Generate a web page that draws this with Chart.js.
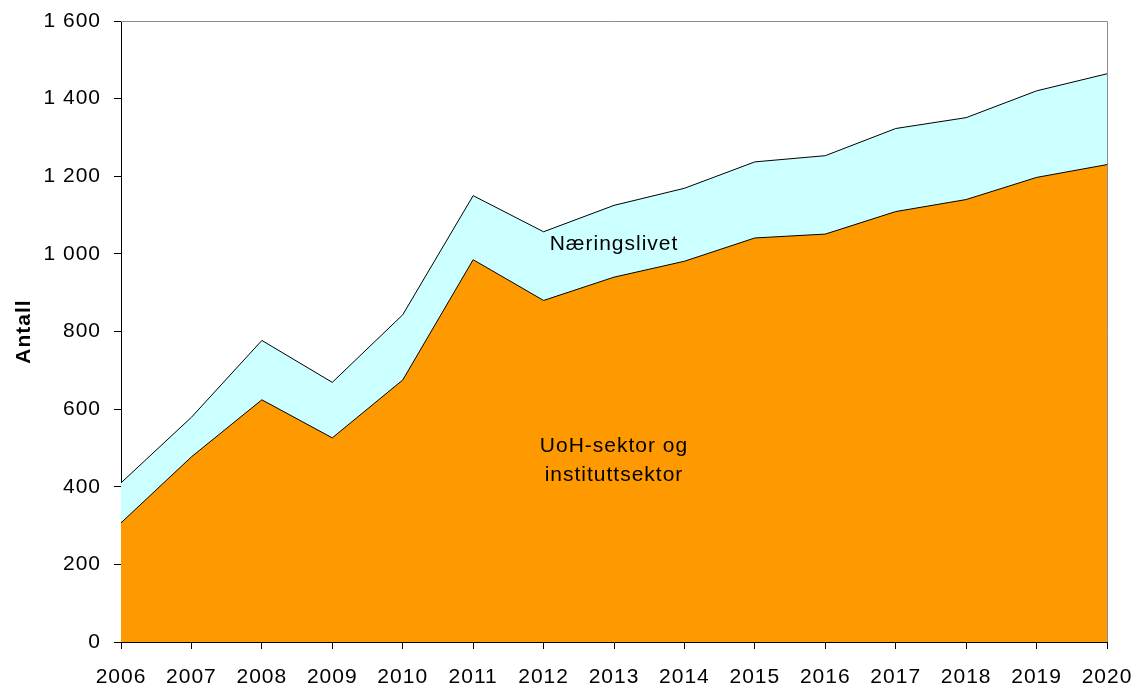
<!DOCTYPE html>
<html>
<head>
<meta charset="utf-8">
<script src="https://cdn.jsdelivr.net/npm/chart.js@4"></script>
<style>
  html, body { margin: 0; padding: 0; background: #fff; }
  #chart { display: block; }
</style>
</head>
<body>
<canvas id="chart" width="1137" height="687"></canvas>
<script>
// Years on the x axis
const years = ["2006", "2007", "2008", "2009", "2010", "2011", "2012", "2013",
               "2014", "2015", "2016", "2017", "2018", "2019", "2020"];

// UoH-sektor og instituttsektor (bottom layer)
const uohValues = [307, 477, 624, 526, 675, 985, 880, 940, 981, 1041, 1051, 1109, 1140, 1197, 1230];

// Næringslivet (stacked on top)
const naeringValues = [103, 102, 153, 143, 168, 165, 177, 185, 188, 196, 202, 214, 211, 223, 234];

// Y axis ticks
const yTicks = [0, 200, 400, 600, 800, 1000, 1200, 1400, 1600];

const fontFamily = "'Liberation Sans', Arial, sans-serif";

// Format numbers with space as thousands separator (1 600)
function formatNumber(v) {
    return String(v).replace(/\B(?=(\d{3})+(?!\d))/g, " ");
}

// Draws grey frame at top/right and the area labels
const framePlugin = {
    id: "frame",
    beforeDraw(chart) {
        chart.ctx.letterSpacing = "1px";
    },
    afterDatasetsDraw(chart) {
        const ctx = chart.ctx;
        const area = chart.chartArea;
        ctx.save();
        ctx.strokeStyle = "#8c8c8c";
        ctx.lineWidth = 1;
        ctx.beginPath();
        ctx.moveTo(area.left, area.top + 0.5);
        ctx.lineTo(area.right + 0.5, area.top + 0.5);
        ctx.lineTo(area.right + 0.5, area.bottom);
        ctx.stroke();

        // Labels inside the areas, centred on 2013
        const x = chart.scales.x.getPixelForValue(7);
        const y = chart.scales.y;
        ctx.fillStyle = "#000";
        ctx.font = "21px " + fontFamily;
        ctx.textAlign = "center";
        ctx.textBaseline = "alphabetic";
        ctx.fillText("Næringslivet", x, y.getPixelForValue(1010));
        ctx.fillText("UoH-sektor og", x, y.getPixelForValue(490));
        ctx.fillText("instituttsektor", x, y.getPixelForValue(415));
        ctx.restore();
    }
};

const ctx = document.getElementById("chart").getContext("2d");

new Chart(ctx, {
    type: "line",
    data: {
        labels: years,
        datasets: [
            {
                label: "UoH-sektor og instituttsektor",
                data: uohValues,
                backgroundColor: "#FF9900",
                borderColor: "#000000",
                borderWidth: 1,
                fill: "origin",
                pointRadius: 0,
                tension: 0
            },
            {
                label: "Næringslivet",
                data: naeringValues,
                backgroundColor: "#CCFFFF",
                borderColor: "#000000",
                borderWidth: 1,
                fill: "-1",
                pointRadius: 0,
                tension: 0
            }
        ]
    },
    options: {
        responsive: false,
        animation: false,
        devicePixelRatio: 1,
        layout: {
            padding: { top: 21, right: 30, left: 0, bottom: 0 }
        },
        plugins: {
            legend: { display: false },
            tooltip: { enabled: false }
        },
        scales: {
            x: {
                offset: false,
                grid: {
                    drawOnChartArea: false,
                    drawTicks: true,
                    tickLength: 7,
                    tickColor: "#000"
                },
                border: { color: "#000", width: 1 },
                ticks: {
                    color: "#000",
                    font: { family: fontFamily, size: 21 },
                    padding: 16,
                    maxRotation: 0,
                    autoSkip: false
                },
                afterFit(scale) {
                    scale.height = 45;
                    scale.paddingLeft = 0;
                    scale.paddingRight = 0;
                }
            },
            y: {
                stacked: true,
                min: 0,
                max: 1600,
                afterBuildTicks(scale) {
                    scale.ticks = yTicks.map(v => ({ value: v }));
                },
                grid: {
                    drawOnChartArea: false,
                    drawTicks: true,
                    tickLength: 7,
                    tickColor: "#000"
                },
                border: { color: "#000", width: 1 },
                ticks: {
                    color: "#000",
                    font: { family: fontFamily, size: 21 },
                    padding: 13,
                    callback: v => formatNumber(v)
                },
                title: {
                    display: true,
                    text: "Antall",
                    color: "#000",
                    font: { family: fontFamily, size: 21, weight: "bold" },
                    padding: { top: 12, bottom: 0 }
                },
                afterFit(scale) {
                    scale.width = 121;
                    scale.paddingTop = 0;
                    scale.paddingBottom = 0;
                }
            }
        }
    },
    plugins: [framePlugin]
});
</script>
</body>
</html>
